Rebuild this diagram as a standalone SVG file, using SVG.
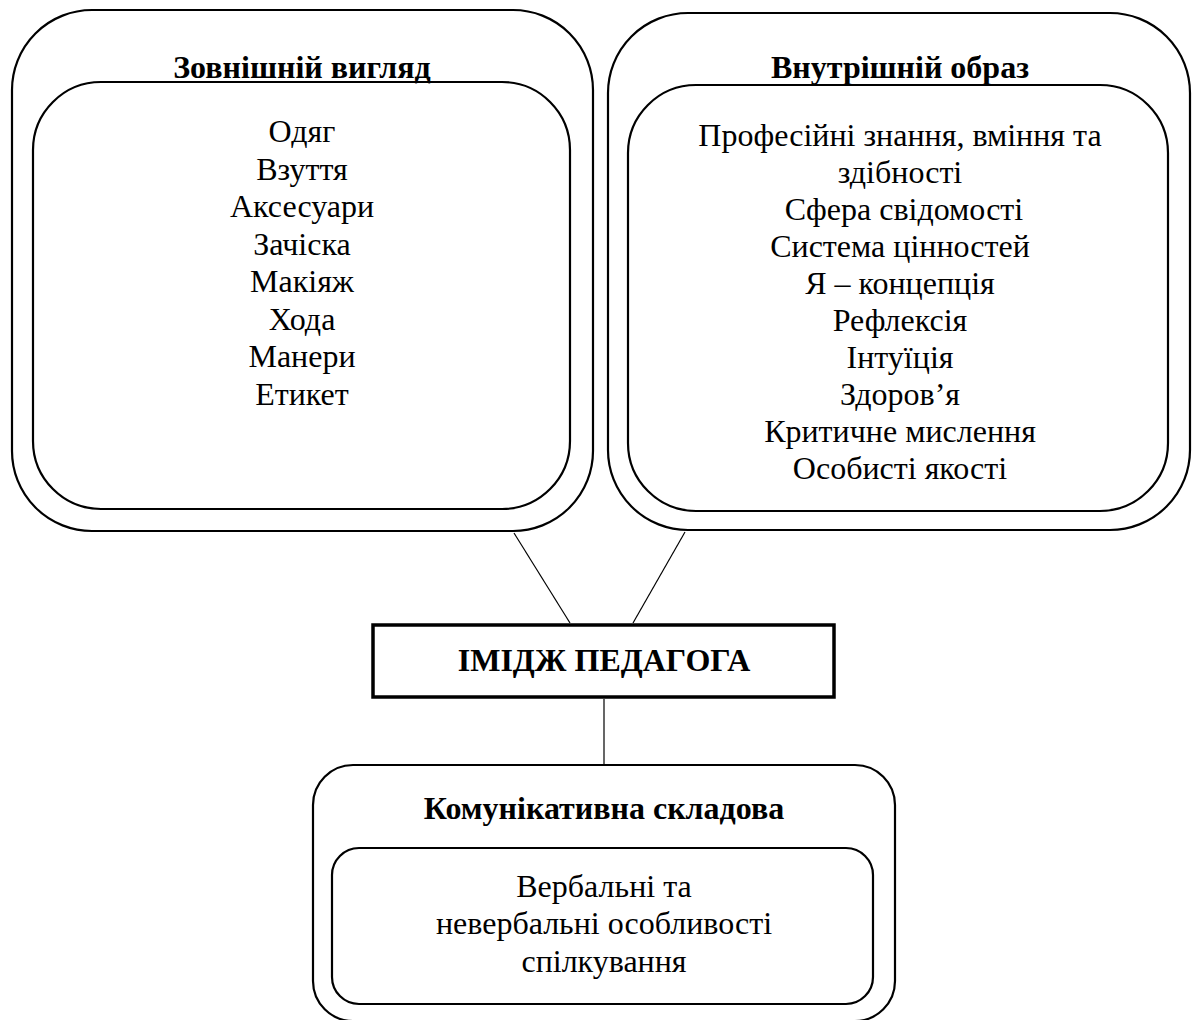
<svg xmlns="http://www.w3.org/2000/svg" width="1192" height="1020" viewBox="0 0 1192 1020">
<style>
.box{fill:none;stroke:#000;stroke-width:2.2}
.main{fill:#fff;stroke:#000;stroke-width:3.5}
.conn{stroke:#000;stroke-width:1.2;fill:none}
text{font-family:'Liberation Serif','Times New Roman',serif;font-size:32px;fill:#000;text-anchor:middle}
.t{font-weight:bold}
</style>
<rect width="1192" height="1020" fill="#fff"/>
<g id="connectors">
<line class="conn" x1="514" y1="533" x2="570" y2="623"/>
<line class="conn" x1="685" y1="532" x2="633" y2="623"/>
<line class="conn" x1="604" y1="699" x2="604" y2="764"/>
</g>
<g id="zovnishnij" font-family="Liberation Serif, serif">
<rect class="box" x="12" y="10" width="581" height="521" rx="80" ry="80"/>
<text class="t" x="302" y="78">Зовнішній вигляд</text>
<rect class="box" x="33" y="82" width="537" height="427" rx="68" ry="68"/>
<text x="302" y="142">Одяг</text>
<text x="302" y="179.5">Взуття</text>
<text x="302" y="217">Аксесуари</text>
<text x="302" y="254.5">Зачіска</text>
<text x="302" y="292">Макіяж</text>
<text x="302" y="329.5">Хода</text>
<text x="302" y="367">Манери</text>
<text x="302" y="404.5">Етикет</text>
</g>
<g id="vnutrishnij" font-family="Liberation Serif, serif">
<rect class="box" x="608" y="13" width="582" height="517" rx="80" ry="80"/>
<text class="t" x="900" y="78">Внутрішній образ</text>
<rect class="box" x="628" y="85" width="540" height="426" rx="68" ry="68"/>
<text x="900" y="146">Професійні знання, вміння та</text>
<text x="900" y="183">здібності</text>
<text x="904" y="220">Сфера свідомості</text>
<text x="900" y="257">Система цінностей</text>
<text x="900" y="294">Я – концепція</text>
<text x="900" y="331">Рефлексія</text>
<text x="900" y="368">Інтуїція</text>
<text x="900" y="405">Здоров’я</text>
<text x="900" y="442">Критичне мислення</text>
<text x="900" y="479">Особисті якості</text>
</g>
<g id="imidzh" font-family="Liberation Serif, serif">
<rect class="main" x="373" y="625" width="461" height="72"/>
<text class="t" x="604" y="671">ІМІДЖ ПЕДАГОГА</text>
</g>
<g id="komunikatyvna" font-family="Liberation Serif, serif">
<rect class="box" x="313" y="765" width="582" height="256" rx="40" ry="40"/>
<text class="t" x="604" y="819">Комунікативна складова</text>
<rect class="box" x="332" y="848" width="541" height="156" rx="27" ry="27"/>
<text x="604" y="897">Вербальні та</text>
<text x="604" y="934">невербальні особливості</text>
<text x="604" y="972">спілкування</text>
</g>
</svg>
